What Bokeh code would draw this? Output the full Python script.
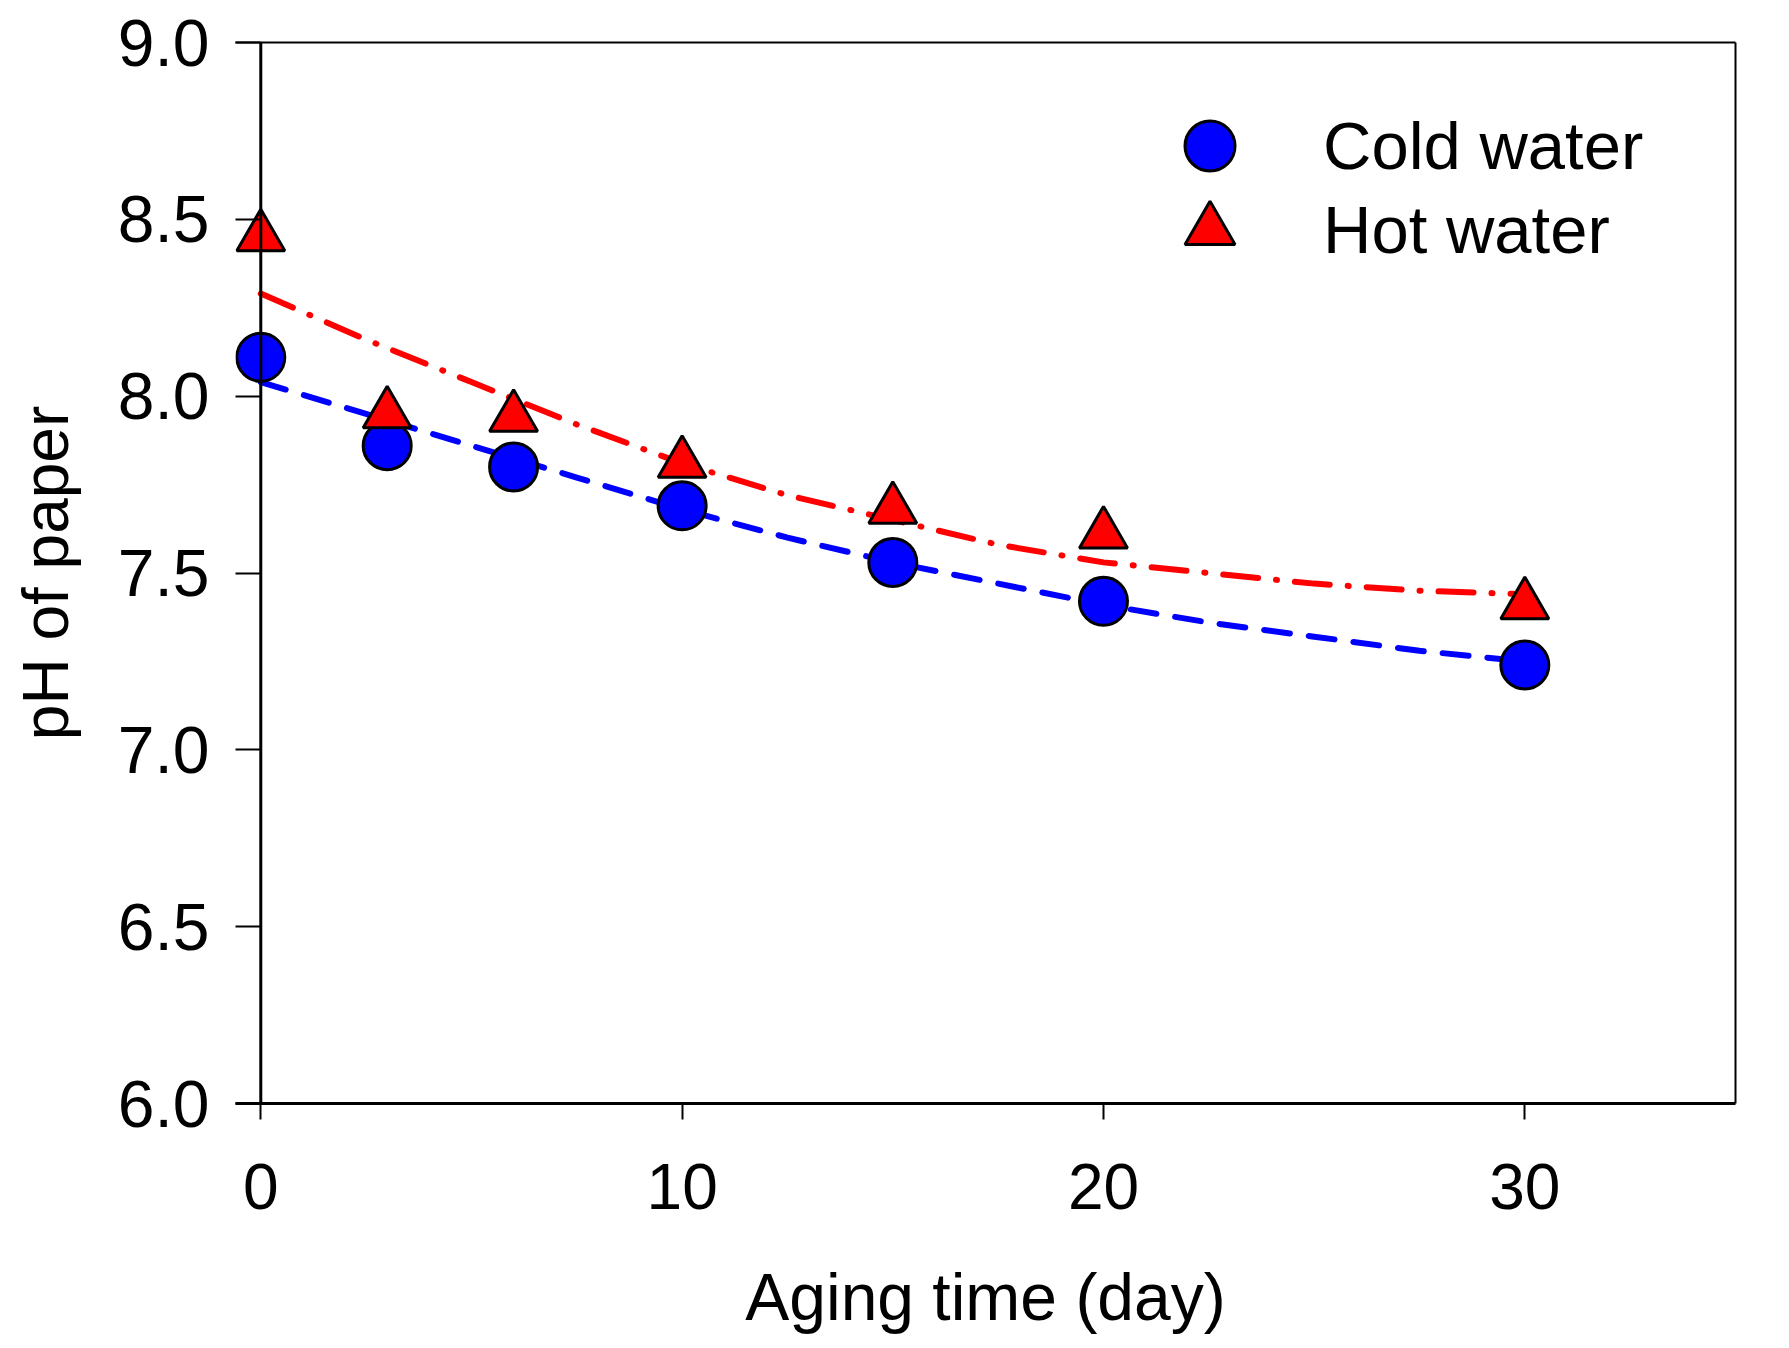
from bokeh.plotting import figure
from bokeh.models import (Range1d, FixedTicker, Legend, LegendItem, ColumnDataSource,
                          NumeralTickFormatter, LinearAxis, Span)
from bokeh.embed import file_html
from bokeh.resources import INLINE

# ---- data ----
days = [0, 3, 6, 10, 15, 20, 30]
cold_ph = [8.11, 7.86, 7.80, 7.69, 7.53, 7.42, 7.24]
hot_ph = [8.45, 7.95, 7.94, 7.81, 7.68, 7.61, 7.41]

fit_days = [0, 2.5, 5, 7.5, 10, 12.5, 15, 17.5, 20, 22.5, 25, 27.5, 30]
cold_fit = [8.04, 7.95, 7.86, 7.77, 7.68, 7.60, 7.53, 7.47, 7.41, 7.36, 7.32, 7.28, 7.25]
hot_fit = [8.29, 8.16, 8.04, 7.92, 7.81, 7.72, 7.65, 7.58, 7.53, 7.50, 7.47, 7.45, 7.44]

x_ticks = [0, 10, 20, 30]
y_ticks = [6.0, 6.5, 7.0, 7.5, 8.0, 8.5, 9.0]
series_names = ["Cold water", "Hot water"]

FONT = "Liberation Sans"

# x range starts slightly below 0 so that the markers at day 0 are not clipped;
# the visible y-axis line is drawn at x = 0.
p = figure(width=1781, height=1340, x_range=Range1d(-0.6, 35), y_range=Range1d(6, 9),
           output_backend="svg", toolbar_location=None,
           min_border_left=235, min_border_right=46, min_border_top=42, min_border_bottom=237)
p.background_fill_color = "white"
p.border_fill_color = "white"
p.grid.visible = False
p.outline_line_color = None

cs = ColumnDataSource(dict(x=days, y=cold_ph))
hs = ColumnDataSource(dict(x=days, y=hot_ph))
cf = ColumnDataSource(dict(x=fit_days, y=cold_fit))
hf = ColumnDataSource(dict(x=fit_days, y=hot_fit))

p.add_layout(Span(location=0, dimension="height", line_color="black", line_width=3))

p.line("x", "y", source=cf, line_color="#0000FF", line_width=6, line_dash="26 19", line_cap="round")
p.line("x", "y", source=hf, line_color="#FF0000", line_width=6, line_dash="35 18 1 18", line_cap="round")

r_cold = p.scatter("x", "y", source=cs, marker="circle", size=48, fill_color="#0000FF",
                   line_color="black", line_width=3)
r_hot = p.scatter("x", "y", source=hs, marker="triangle", size=48, fill_color="#FF0000",
                  line_color="black", line_width=3)

for ax in (p.xaxis, p.yaxis):
    ax.axis_line_color = "black"
    ax.axis_line_width = 3
    ax.major_tick_line_color = "black"
    ax.major_tick_line_width = 2
    ax.minor_tick_line_color = None
    ax.major_label_text_font = FONT
    ax.major_label_text_color = "black"
    ax.axis_label_text_font = FONT
    ax.axis_label_text_font_style = "normal"
    ax.axis_label_text_color = "black"

p.xaxis.axis_label_text_font_size = "66px"
p.yaxis.axis_label_text_font_size = "64px"
p.xaxis.major_tick_in = 0
p.xaxis.major_tick_out = 16
p.yaxis.axis_line_color = None
p.yaxis.major_tick_in = 25
p.yaxis.major_tick_out = 0

p.xaxis.major_label_text_font_size = "64px"
p.yaxis.major_label_text_font_size = "66px"
p.xaxis.ticker = FixedTicker(ticks=x_ticks)
p.yaxis.ticker = FixedTicker(ticks=y_ticks)
p.yaxis.formatter = NumeralTickFormatter(format="0.0")
p.xaxis.axis_label = "Aging time (day)"
p.yaxis.axis_label = "pH of paper"
p.xaxis.major_label_standoff = 44
p.yaxis.major_label_standoff = 26
p.xaxis.axis_label_standoff = 48
p.yaxis.axis_label_standoff = 33

# plain frame lines on top and right
for side in ("above", "right"):
    frame_ax = LinearAxis(ticker=FixedTicker(ticks=[]), axis_line_color="black", axis_line_width=2,
                          major_tick_line_color=None, minor_tick_line_color=None,
                          major_label_text_font_size="0px")
    p.add_layout(frame_ax, side)

legend_a = Legend(items=[LegendItem(label=series_names[0], renderers=[r_cold])],
                  location=(912, 895), orientation="vertical",
                  glyph_width=125, glyph_height=125, label_standoff=51,
                  padding=0, margin=0, border_line_color=None, background_fill_alpha=0,
                  label_text_font=FONT, label_text_font_size="67px", label_text_color="black")
legend_b = Legend(items=[LegendItem(label=series_names[1], renderers=[r_hot])],
                  location=(912, 811), orientation="vertical",
                  glyph_width=125, glyph_height=125, label_standoff=51,
                  padding=0, margin=0, border_line_color=None, background_fill_alpha=0,
                  label_text_font=FONT, label_text_font_size="67px", label_text_color="black")
p.add_layout(legend_a)
p.add_layout(legend_b)

open("out.html", "w").write(file_html(p, INLINE))
